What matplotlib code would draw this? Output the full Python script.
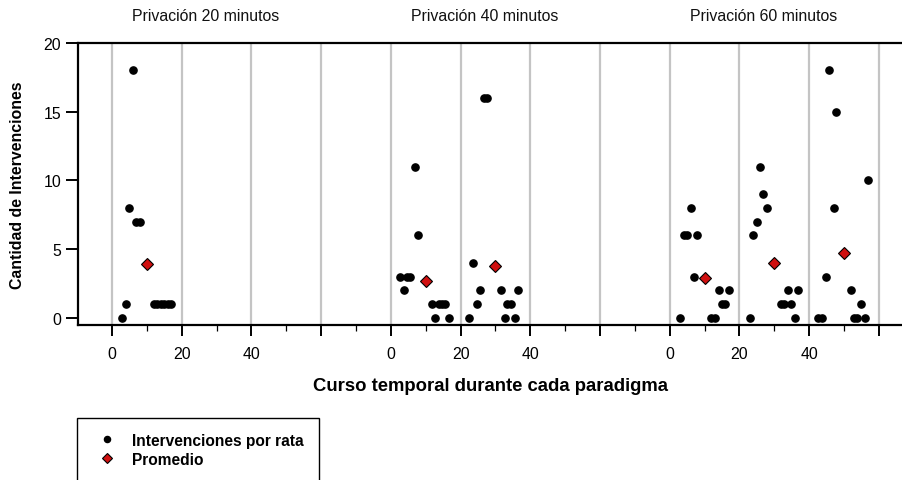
import matplotlib
matplotlib.use("Agg")
import matplotlib.pyplot as plt
from matplotlib.ticker import MultipleLocator, FixedLocator

plt.rcParams['font.family'] = ['Liberation Sans', 'DejaVu Sans']

# ------------------------------
# DATOS
# ------------------------------

titulos = ['Privación 20 minutos', 'Privación 40 minutos', 'Privación 60 minutos']

# minutos dentro de cada paradigma y cantidad de intervenciones por rata
t_20 = [3, 4, 5, 6, 7, 8, 12, 13, 14, 15, 16, 17]
v_20 = [0, 1, 8, 18, 7, 7, 1, 1, 1, 1, 1, 1]

t_40 = [2.6, 3.7, 4.7, 5.6, 6.8, 7.7, 11.8, 12.6, 13.7, 14.7, 15.6, 16.7,
        22.5, 23.5, 24.7, 25.5, 26.6, 27.6, 31.5, 32.7, 33.4, 34.5, 35.5, 36.6]
v_40 = [3, 2, 3, 3, 11, 6, 1, 0, 1, 1, 1, 0,
        0, 4, 1, 2, 16, 16, 2, 0, 1, 1, 0, 2]

t_60 = [2.9, 4.1, 4.9, 6.0, 6.9, 7.9, 11.9, 12.9, 14.1, 14.9, 15.9, 16.9,
        22.9, 23.8, 24.9, 25.9, 26.8, 27.9, 31.9, 32.7, 34.0, 34.8, 35.9, 36.9,
        42.6, 43.6, 44.8, 45.8, 47.0, 47.7, 51.9, 52.9, 53.8, 54.9, 55.9, 56.9]
v_60 = [0, 6, 6, 8, 3, 6, 0, 0, 2, 1, 1, 2,
        0, 6, 7, 11, 9, 8, 1, 1, 2, 1, 0, 2,
        0, 0, 3, 18, 8, 15, 2, 0, 0, 1, 0, 10]

# promedio de cada bloque de 20 minutos
t_prom_20 = [10]
prom_20 = [3.92]
t_prom_40 = [10, 30]
prom_40 = [2.67, 3.75]
t_prom_60 = [10, 30, 50]
prom_60 = [2.92, 4.0, 4.75]

tiempos = [t_20, t_40, t_60]
valores = [v_20, v_40, v_60]
t_prom = [t_prom_20, t_prom_40, t_prom_60]
promedios = [prom_20, prom_40, prom_60]

# cada paradigma se dibuja desplazado 80 minutos sobre el mismo eje
desplazamiento = 80

# ------------------------------
# FIGURA
# ------------------------------

fig = plt.figure(figsize=(9.03, 4.81), dpi=100)
ax = fig.add_axes([78 / 903, 1 - 326 / 481, 825 / 903, 282 / 481])

for i in range(3):
    off = i * desplazamiento
    xs = [t + off for t in tiempos[i]]
    ax.plot(xs, valores[i], 'o', color='black', markersize=5.2,
            zorder=3, label='Intervenciones por rata' if i == 0 else None)
    xp = [t + off for t in t_prom[i]]
    ax.plot(xp, promedios[i], 'D', color='#d01010', markeredgecolor='black',
            markeredgewidth=0.8, markersize=6, zorder=4,
            label='Promedio' if i == 0 else None)
    ax.text(off + 27, 1.096, titulos[i], transform=ax.get_xaxis_transform(),
            ha='center', va='center', fontsize=11.4, color='#111111')

ax.set_xlim(-9.75, 226.9)
ax.set_ylim(-0.51, 20)

# ticks: 0, 20, 40 en cada paradigma, y el 60 sin etiqueta
mayores = list(range(0, 221, 20))
etiquetas = []
for m in mayores:
    local = m % desplazamiento
    etiquetas.append(str(local) if local <= 40 else '')
ax.xaxis.set_major_locator(FixedLocator(mayores))
ax.set_xticklabels(etiquetas)
ax.xaxis.set_minor_locator(MultipleLocator(10))
ax.set_yticks([0, 5, 10, 15, 20])

ax.grid(True, axis='x', which='major', color='#c4c4c4', linewidth=1.6, zorder=0)
ax.set_axisbelow(True)

ax.tick_params(axis='x', which='major', length=8, width=1.4, pad=7, labelsize=11.4)
ax.tick_params(axis='x', which='minor', length=4.5, width=0.9)
ax.tick_params(axis='y', which='major', length=9, width=1.4, pad=3, labelsize=11.4)

for lado in ['left', 'bottom', 'top']:
    ax.spines[lado].set_linewidth(1.6)
ax.spines['right'].set_visible(False)

ax.set_ylabel('Cantidad de Intervenciones', fontsize=11.4, fontweight='bold')
ax.yaxis.set_label_coords(-0.064, 0.5)
ax.text(0.5, -0.216, 'Curso temporal durante cada paradigma', transform=ax.transAxes,
        ha='center', va='center', fontsize=13.3, fontweight='bold')

leg = ax.legend(loc='upper left', bbox_to_anchor=(77 / 903, 1 - 419 / 481),
                bbox_transform=fig.transFigure, borderaxespad=0,
                prop={'weight': 'bold', 'size': 11.2}, fancybox=False,
                edgecolor='black', framealpha=1, borderpad=0.96,
                handlelength=2.0, handletextpad=0.58, labelspacing=0.25,
                markerscale=0.85)
leg.get_frame().set_linewidth(1.0)

plt.savefig('out.png', dpi=100)
